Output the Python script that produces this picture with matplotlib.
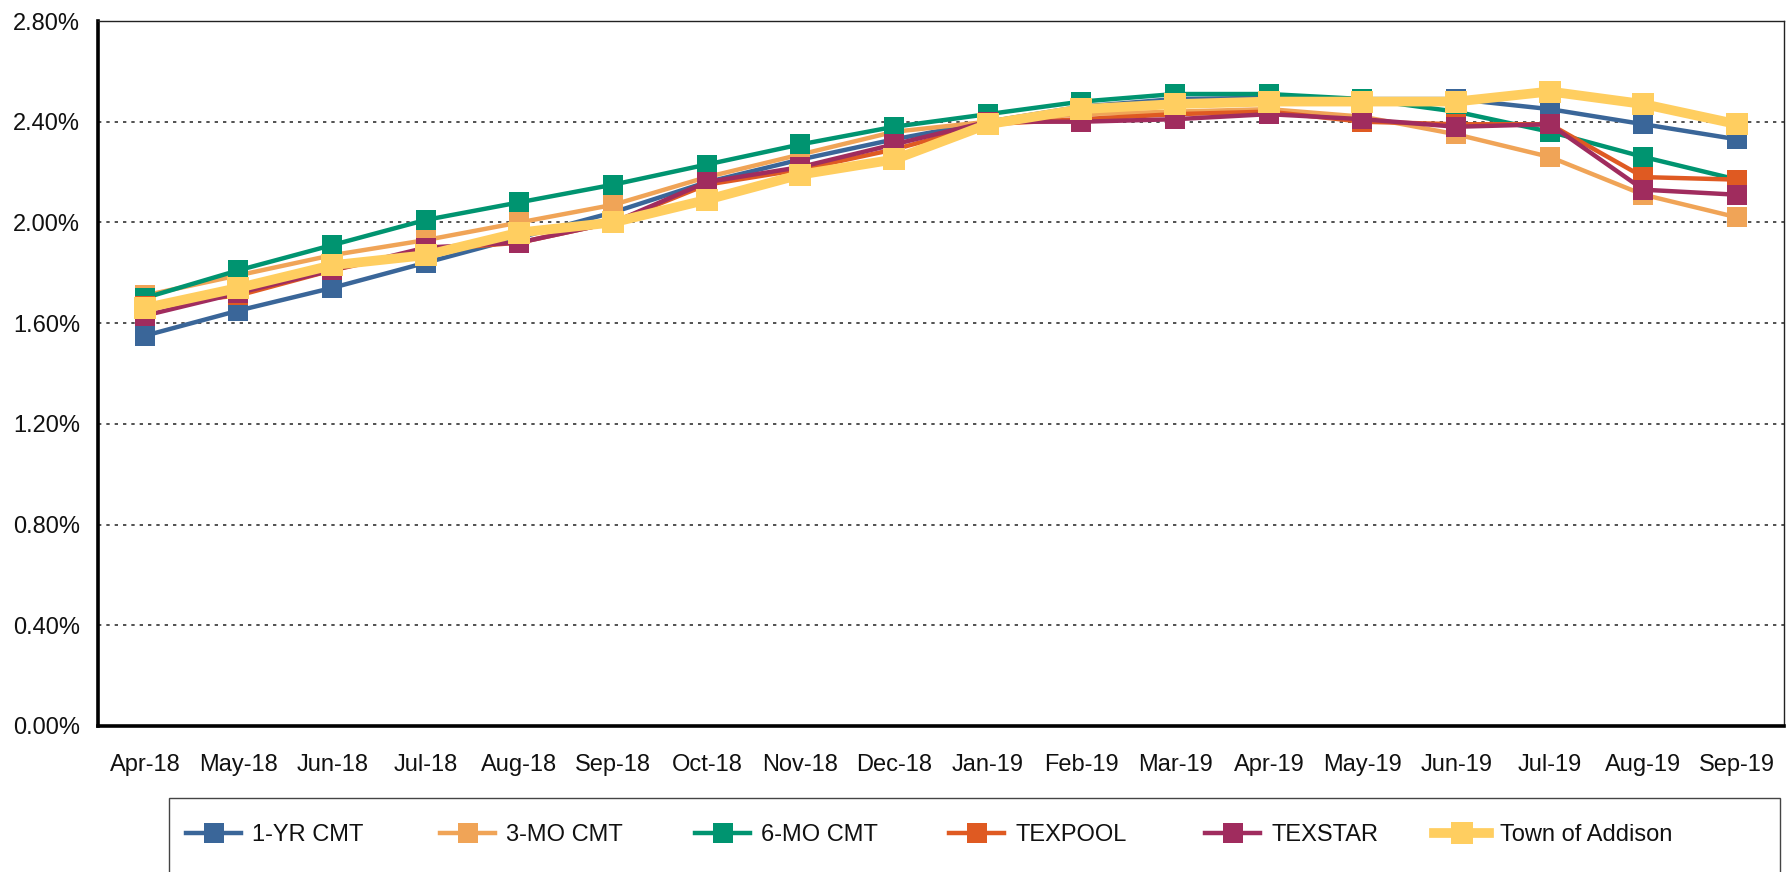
import matplotlib
matplotlib.use("Agg")
import matplotlib.pyplot as plt
from matplotlib.patches import Rectangle
from matplotlib.ticker import FuncFormatter, MultipleLocator

months = ["Apr-18", "May-18", "Jun-18", "Jul-18", "Aug-18", "Sep-18", "Oct-18", "Nov-18", "Dec-18",
          "Jan-19", "Feb-19", "Mar-19", "Apr-19", "May-19", "Jun-19", "Jul-19", "Aug-19", "Sep-19"]

yr1_cmt = [1.55, 1.65, 1.74, 1.84, 1.94, 2.04, 2.16, 2.25, 2.33, 2.40, 2.46, 2.49, 2.495, 2.49, 2.49, 2.45, 2.39, 2.33]
mo3_cmt = [1.71, 1.79, 1.87, 1.93, 2.00, 2.07, 2.18, 2.27, 2.36, 2.40, 2.43, 2.44, 2.45, 2.42, 2.35, 2.26, 2.11, 2.02]
mo6_cmt = [1.70, 1.81, 1.91, 2.01, 2.08, 2.15, 2.23, 2.31, 2.38, 2.43, 2.48, 2.51, 2.51, 2.49, 2.44, 2.36, 2.26, 2.17]
texpool = [1.67, 1.71, 1.81, 1.89, 1.92, 2.00, 2.15, 2.21, 2.29, 2.39, 2.41, 2.43, 2.44, 2.40, 2.39, 2.39, 2.18, 2.17]
texstar = [1.63, 1.72, 1.81, 1.90, 1.92, 2.00, 2.16, 2.22, 2.31, 2.40, 2.40, 2.41, 2.43, 2.41, 2.38, 2.39, 2.13, 2.11]
addison = [1.66, 1.74, 1.83, 1.87, 1.96, 2.00, 2.09, 2.19, 2.25, 2.39, 2.45, 2.47, 2.48, 2.48, 2.48, 2.52, 2.47, 2.39]

series_names = ["1-YR CMT", "3-MO CMT", "6-MO CMT", "TEXPOOL", "TEXSTAR", "Town of Addison"]
series_vals = [yr1_cmt, mo3_cmt, mo6_cmt, texpool, texstar, addison]
colors = ["#3A6699", "#F0A457", "#009470", "#DF5A22", "#A02C5E", "#FFCE60"]

plt.rcParams['font.family'] = ['Liberation Sans', 'DejaVu Sans']

fig = plt.figure(figsize=(17.87, 8.72), dpi=100)
ax = fig.add_axes([98/1787, 1-726/872, (1784-98)/1787, (726-21)/872])

x = list(range(len(months)))
handles = []
for name, vals, c in zip(series_names, series_vals, colors):
    if name == "Town of Addison":
        lw, ms = 7.0, 15.5
    else:
        lw, ms = 3.2, 14.4
    h, = ax.plot(x, [v / 100 for v in vals], color=c, lw=lw, marker='s', ms=ms,
                 markeredgewidth=0, label=name, solid_joinstyle='round')
    handles.append(h)

ax.set_xlim(-0.5, len(months) - 0.5)
ax.set_ylim(0, 0.028)
ax.yaxis.set_major_locator(MultipleLocator(0.004))
ax.yaxis.set_major_formatter(FuncFormatter(lambda v, p: f"{v*100:.2f}%"))
ax.set_xticks(x)
ax.set_xticklabels(months)
ax.tick_params(axis='both', length=0, labelsize=17, colors='#111111')
ax.tick_params(axis='y', pad=13)
ax.tick_params(axis='x', pad=20)
ax.grid(axis='y', color='#333333', lw=1.2, linestyle=(0, (2, 3)))
ax.set_axisbelow(True)

for s in ['left', 'bottom']:
    ax.spines[s].set_linewidth(2.6)
    ax.spines[s].set_color('black')
for s in ['top', 'right']:
    ax.spines[s].set_linewidth(1.0)
    ax.spines[s].set_color('#222222')

fig.patches.append(Rectangle((169/1787, -0.02), (1780-169)/1787, 1-798/872+0.02,
                             transform=fig.transFigure, fill=False, edgecolor='#444444', lw=1.0))

# legend entries, one per series, at the reference positions
entry_x = [186, 440, 695, 949, 1205, 1434]
for h, name, ex in zip(handles, series_names, entry_x):
    leg = fig.legend([h], [name], loc='center left', bbox_to_anchor=(ex/1787, 1-835/872),
                     frameon=False, fontsize=17, handlelength=2.35, handletextpad=0.45,
                     numpoints=1, borderaxespad=0, borderpad=0)
    for t in leg.get_texts():
        t.set_color('#111111')

fig.savefig("out.png", dpi=100)
